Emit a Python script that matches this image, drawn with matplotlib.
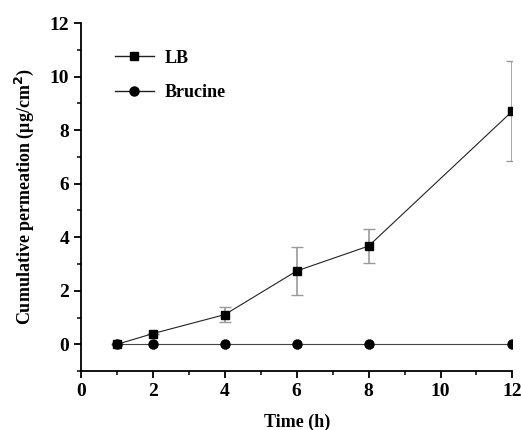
import matplotlib.pyplot as plt
from matplotlib.lines import Line2D
from matplotlib.ticker import MultipleLocator

# data
time_h = [1, 2, 4, 6, 8, 12]
lb_mean = [0.0, 0.40, 1.11, 2.74, 3.67, 8.71]
lb_err = [0.0, 0.0, 0.28, 0.91, 0.65, 1.87]
brucine_mean = [0.0, 0.0, 0.0, 0.0, 0.0, 0.0]

plt.rcParams["font.family"] = ["Liberation Serif", "DejaVu Serif"]
plt.rcParams["font.weight"] = "bold"

fig = plt.figure(figsize=(5.21, 4.30), dpi=100)
ax = fig.add_axes([0.1555, 0.137, 0.828, 0.8095])

ax.errorbar(time_h, lb_mean, yerr=lb_err, color="#222222", lw=0.8,
            marker="s", ms=6, mfc="black", mec="black",
            ecolor="#999999", elinewidth=1.2, capsize=4, capthick=1.0,
            zorder=3)
ax.plot(time_h, brucine_mean, color="#444444", lw=0.8, marker="o", ms=6.5,
        mfc="black", mec="black", zorder=3)

ax.set_xlim(0, 12)
ax.set_ylim(-1, 12)
ax.xaxis.set_major_locator(MultipleLocator(2))
ax.xaxis.set_minor_locator(MultipleLocator(1))
ax.yaxis.set_major_locator(MultipleLocator(2))
ax.yaxis.set_minor_locator(MultipleLocator(1))
ax.spines["top"].set_visible(False)
ax.spines["right"].set_visible(False)
for side in ("left", "bottom"):
    ax.spines[side].set_linewidth(1.3)
ax.tick_params(which="major", direction="out", length=5, width=1.3, labelsize=14)
ax.tick_params(which="minor", direction="out", length=3, width=1.1)

ax.set_xlabel("Time (h)", fontsize=13, fontweight="bold", labelpad=10)
ax.set_ylabel("Cumulative permeation (μg/cm$^\\mathbf{2}$)", fontsize=13,
              fontweight="bold", labelpad=10)

handles = [
    Line2D([], [], color="#222222", lw=1.0, marker="s", ms=6, mfc="black", mec="black"),
    Line2D([], [], color="#222222", lw=1.0, marker="o", ms=6.5, mfc="black", mec="black"),
]
ax.legend(handles, ["LB", "Brucine"], loc="upper left", bbox_to_anchor=(0.04, 0.97),
          frameon=False, fontsize=13, handlelength=2.2, handletextpad=0.6,
          labelspacing=0.95)

fig.savefig("out.png", dpi=100)
